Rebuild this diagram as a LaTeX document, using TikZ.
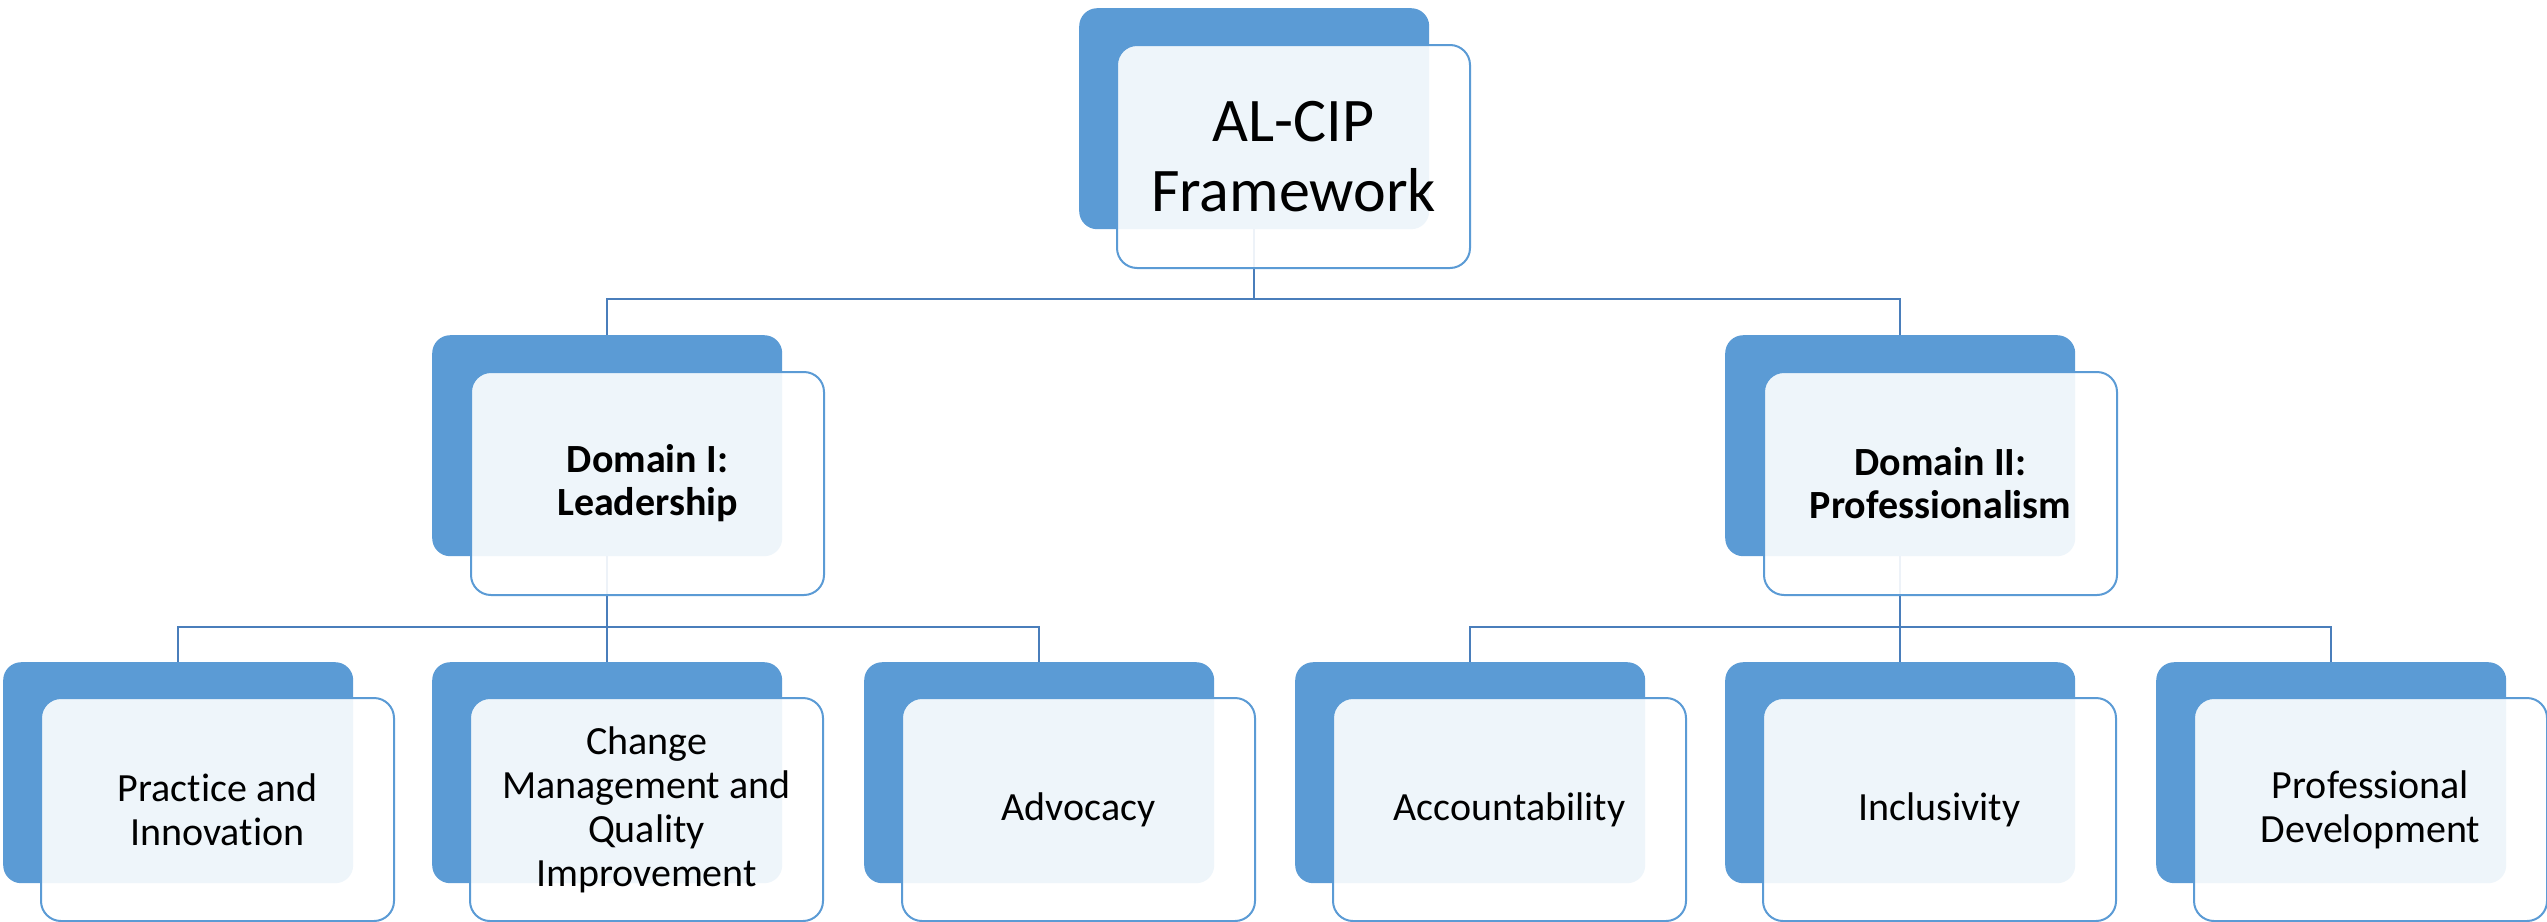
\documentclass[tikz,border=0pt]{standalone}
\usepackage{fontspec}
\setmainfont{Carlito}[Ligatures=NoCommon]
\usetikzlibrary{backgrounds}
\definecolor{boxblue}{HTML}{5B9BD5}
\definecolor{lineblue}{HTML}{4A7EBB}
\begin{document}
\begin{tikzpicture}[x=1pt,y=-1pt,
  backbox/.style={fill=boxblue, rounded corners=18pt, minimum width=350pt, minimum height=221pt, inner sep=0pt, anchor=north west},
  frontbox/.style={draw=boxblue, line width=2pt, fill=white, fill opacity=0.9, text opacity=1, rounded corners=20pt, minimum width=353pt, minimum height=223pt, inner sep=0pt, anchor=north west, align=center},
  conn/.style={draw=lineblue, line width=2pt},
  toptext/.style={font=\fontsize{62}{70}\selectfont},
  domtext/.style={font=\fontsize{40}{43}\selectfont\bfseries},
  leaftext/.style={font=\fontsize{40}{44}\selectfont}]
\useasboundingbox (0,0) rectangle (2547,921);
% top
\node[backbox] (tb) at (1079,8) {};
\node[frontbox, toptext] (tf) at (1116,44) {AL-CIP\\Framework};
% domains
\node[backbox] (d1b) at (432,335) {};
\node[frontbox, domtext] (d1f) at (470,371) {Domain I:\\Leadership};
\node[backbox] (d2b) at (1725,335) {};
\node[frontbox, domtext] (d2f) at (1763,371) {Domain II:\\Professionalism};
% leaves
\node[backbox] (l1b) at (3,662) {};
\node[frontbox, leaftext] (l1f) at (40,697) {Practice and\\Innovation};
\node[backbox] (l2b) at (432,662) {};
\node[frontbox, leaftext] (l2f) at (469,697) {Change\\Management and\\Quality\\Improvement};
\node[backbox] (l3b) at (864,662) {};
\node[frontbox, leaftext] (l3f) at (901,697) {Advocacy};
\node[backbox] (l4b) at (1295,662) {};
\node[frontbox, leaftext] (l4f) at (1332,697) {Accountability};
\node[backbox] (l5b) at (1725,662) {};
\node[frontbox, leaftext] (l5f) at (1762,697) {Inclusivity};
\node[backbox] (l6b) at (2156,662) {};
\node[frontbox, leaftext] (l6f) at (2193,697) {Professional\\Development};
% connectors
\begin{pgfonlayer}{background}
\path (tb.south) ++(0,70) coordinate (b1);
\draw[conn] (tb.south) -- (b1);
\draw[conn] (d1b.north) |- (b1) -| (d2b.north);
\path (d1b.south) ++(0,71) coordinate (b2);
\draw[conn] (d1b.south) -- (b2);
\draw[conn] (l1b.north) |- (b2) -| (l3b.north);
\draw[conn] (b2) -- (l2b.north);
\path (d2b.south) ++(0,71) coordinate (b3);
\draw[conn] (d2b.south) -- (b3);
\draw[conn] (l4b.north) |- (b3) -| (l6b.north);
\draw[conn] (b3) -- (l5b.north);
\end{pgfonlayer}
\end{tikzpicture}
\end{document}
